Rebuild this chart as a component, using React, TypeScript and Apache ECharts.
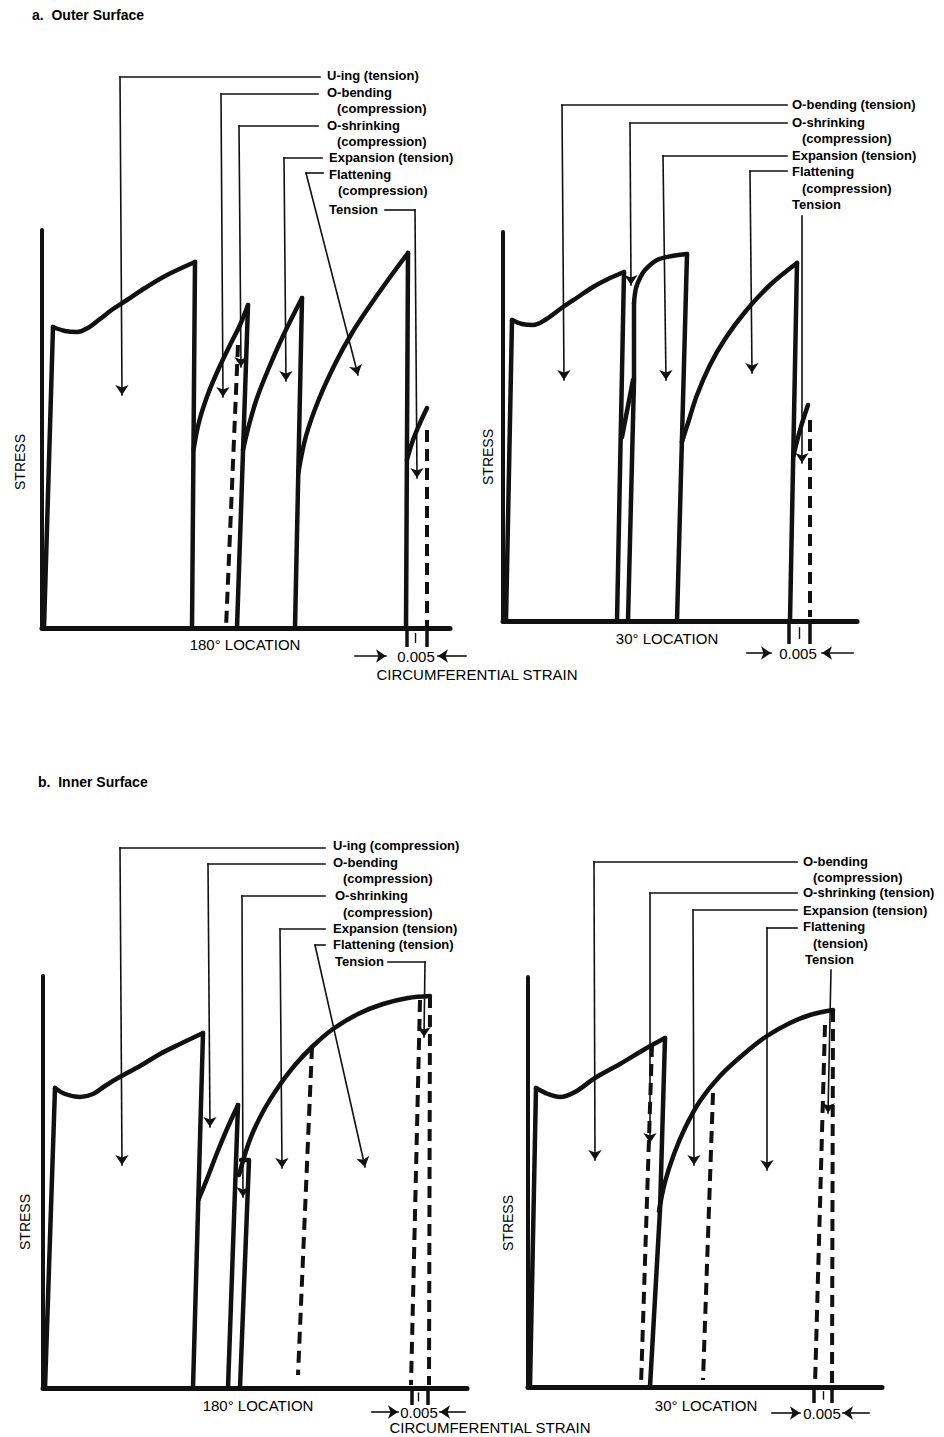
import React, { useEffect, useRef } from "react";
import * as echarts from "echarts";

type Pt = [number, number];

// ===== values (arbitrary strain / stress units per panel) =====

// ---- a. Outer surface, 180° location ----
const A180_uingRise: Pt[] = [[2, 0], [11, 301]];
const A180_uingCurve: Pt[] = [[11, 301], [23, 297], [35, 296], [46, 300], [58, 309], [71, 319], [85, 328], [103, 340], [125, 353], [153, 366]];
const A180_uingDrop: Pt[] = [[153, 366], [150, 0]];
const A180_obendCurve: Pt[] = [[151.5, 178], [157, 206], [166, 234], [177, 260], [188, 283], [198, 303], [206, 323]];
const A180_obendDrop: Pt[] = [[206, 323], [195, 0]];
const A180_oshrinkDash: Pt[] = [[196, 283], [184, 0]];
const A180_expCurve: Pt[] = [[201, 178], [207, 203], [215, 230], [226, 258], [241, 292], [260, 330]];
const A180_expDrop: Pt[] = [[260, 330], [253, 0]];
const A180_flatCurve: Pt[] = [[256.3, 155], [264, 192], [277, 229], [294, 266], [310, 295], [327, 321], [346, 348], [366, 375]];
const A180_flatDrop: Pt[] = [[366, 375], [364, 0]];
const A180_tensCurve: Pt[] = [[364.9, 168], [371, 188], [378, 205], [385, 220]];
const A180_tensDash: Pt[] = [[385, 198], [385, 0]];
const A180_leaders: Pt[][] = [
  [[278, 551], [78, 551], [80, 233]],
  [[276, 534], [179, 534], [181, 231]],
  [[276, 502], [197, 502], [199, 261]],
  [[280, 470], [242, 470], [244, 247]],
  [[281, 455], [264, 455], [316, 253]],
  [[343, 418], [373, 418], [375, 150]],
];
const A180_gaugeTicks: number[] = [365, 385];
const A180_gaugeMid: number = 373;
const A180_gaugeArrows: Pt[][] = [[[313, -28], [344, -28]], [[424, -28], [396, -28]]];
const A180_labels: string[] = ["U-ing (tension)", "O-bending", "(compression)", "O-shrinking", "(compression)", "Expansion (tension)", "Flattening", "(compression)", "Tension"];

// ---- a. Outer surface, 30° location ----
const A30_obendRise: Pt[] = [[3, 0], [9, 301]];
const A30_obendCurve: Pt[] = [[9, 301], [19, 297], [30, 296], [42, 301], [60, 314], [75, 324], [90, 334], [105, 342], [121, 349]];
const A30_obendDrop: Pt[] = [[121, 349], [114, 0]];
const A30_oshrinkReload: Pt[] = [[119, 184], [130, 241]];
const A30_oshrinkRise: Pt[] = [[125, 0], [131, 241], [131, 318]];
const A30_oshrinkCurve: Pt[] = [[131, 318], [133, 333], [137, 343], [142, 351], [154, 361], [169, 365], [184, 367]];
const A30_oshrinkDrop: Pt[] = [[184, 367], [174, 0]];
const A30_expCurve: Pt[] = [[178.9, 179], [185, 198], [194, 226], [207, 256], [222, 282], [242, 309], [267, 336], [294, 358]];
const A30_expDrop: Pt[] = [[294, 358], [287, 0]];
const A30_tensCurve: Pt[] = [[290.2, 164], [297, 191], [305, 216]];
const A30_tensDash: Pt[] = [[307, 201], [307, 4]];
const A30_leaders: Pt[][] = [
  [[284, 516], [59, 516], [61, 241]],
  [[284, 498], [127, 498], [128, 336]],
  [[284, 465], [160, 465], [163, 241]],
  [[284, 450], [247, 450], [249, 248]],
  [[299, 405], [299, 158]],
];
const A30_gaugeTicks: number[] = [286, 307];
const A30_gaugeMid: number = 296;
const A30_gaugeArrows: Pt[][] = [[[244, -32], [268, -32]], [[350, -32], [319, -32]]];
const A30_labels: string[] = ["O-bending (tension)", "O-shrinking", "(compression)", "Expansion (tension)", "Flattening", "(compression)", "Tension"];

// ---- b. Inner surface, 180° location ----
const B180_uingRise: Pt[] = [[2, 0], [12, 300]];
const B180_uingCurve: Pt[] = [[12, 300], [22, 294], [37, 291], [50, 294], [62, 302], [75, 310], [97, 322], [117, 334], [137, 344], [160, 355]];
const B180_uingDrop: Pt[] = [[160, 355], [150, 0]];
const B180_obendCurve: Pt[] = [[155.3, 188], [164, 209], [174, 235], [184, 259], [195, 283]];
const B180_obendDrop: Pt[] = [[195, 283], [185, 0]];
const B180_oshrink: Pt[] = [[197, 0], [206, 228], [198, 228]];
const B180_expCurve: Pt[] = [[196, 213], [203, 237], [210, 256], [222, 280], [236, 302], [252, 323], [270, 342], [290, 359], [315, 374], [340, 384], [365, 390], [387, 392]];
const B180_dashes: Pt[][] = [
  [[269, 341], [255, 13]],
  [[377, 388], [368, 3]],
  [[387, 392], [386, 3]],
];
const B180_leaders: Pt[][] = [
  [[282, 540], [77, 540], [79, 223]],
  [[282, 524], [165, 524], [167, 261]],
  [[282, 492], [199, 492], [200, 191]],
  [[282, 459], [237, 459], [239, 220]],
  [[282, 443], [272, 443], [322, 221]],
  [[345, 426], [382, 426], [381, 351]],
];
const B180_gaugeTicks: number[] = [369, 385];
const B180_gaugeMid: number = 375;
const B180_gaugeArrows: Pt[][] = [[[329, -24], [355, -24]], [[422, -24], [397, -24]]];
const B180_labels: string[] = ["U-ing (compression)", "O-bending", "(compression)", "O-shrinking", "(compression)", "Expansion (tension)", "Flattening (tension)", "Tension"];

// ---- b. Inner surface, 30° location ----
const B30_obendRise: Pt[] = [[2, 0], [8, 299]];
const B30_obendCurve: Pt[] = [[8, 299], [20, 293], [32, 290], [47, 295], [67, 309], [92, 323], [117, 338], [137, 349]];
const B30_obendDrop: Pt[] = [[137, 349], [132, 177], [122, 0]];
const B30_expCurve: Pt[] = [[131, 176], [137, 205], [146, 233], [157, 259], [172, 286], [192, 311], [217, 334], [239, 351], [262, 364], [282, 372], [305, 377]];
const B30_dashes: Pt[][] = [
  [[124, 342], [113, 2]],
  [[185, 294], [175, 7]],
  [[297, 362], [287, 2]],
  [[305, 377], [304, 2]],
];
const B30_leaders: Pt[][] = [
  [[269, 525], [66, 525], [67, 227]],
  [[269, 494], [122, 494], [122, 244]],
  [[269, 477], [165, 477], [166, 222]],
  [[269, 459], [239, 459], [239, 217]],
  [[303, 417], [300, 274]],
];
const B30_gaugeTicks: number[] = [286, 304];
const B30_gaugeMid: number = 295;
const B30_gaugeArrows: Pt[][] = [[[244, -26], [272, -26]], [[341, -26], [315, -26]]];
const B30_labels: string[] = ["O-bending", "(compression)", "O-shrinking (tension)", "Expansion (tension)", "Flattening", "(tension)", "Tension"];

// shared texts
const AXIS_X_180 = "180° LOCATION";
const AXIS_X_30 = "30° LOCATION";
const AXIS_Y = "STRESS";
const GAUGE = "0.005";
const STRAIN = "CIRCUMFERENTIAL STRAIN";

// ===== layout =====
const INK = "#111111";
const FONT = '"Liberation Sans", Arial, Helvetica, sans-serif';

const GRIDS = [
  { left: 42, top: 230, width: 408, height: 398 },
  { left: 503, top: 232, width: 354, height: 389 },
  { left: 43, top: 976, width: 424, height: 412 },
  { left: 528, top: 977, width: 354, height: 410 },
];
const GAUGE_TICK_LEN = [19, 23, 17, 16];

const LABEL_POS: Pt[][] = [
  [[327, 75], [327, 92], [337, 108], [327, 125], [337, 141], [329, 157], [329, 174], [338, 190], [329, 209]],
  [[792, 104], [792, 122], [802, 138], [792, 155], [792, 171], [802, 188], [792, 204]],
  [[333, 845], [333, 862], [343, 878], [335, 895], [343, 912], [333, 928], [333, 944], [335, 961]],
  [[803, 861], [813, 877], [803, 892], [803, 910], [803, 926], [813, 943], [805, 959]],
];

function solid(g: number, data: Pt[], smooth = false): any {
  return {
    type: "line",
    xAxisIndex: g,
    yAxisIndex: g,
    data,
    smooth: smooth ? 0.35 : false,
    showSymbol: false,
    symbol: "none",
    clip: false,
    silent: true,
    lineStyle: { color: INK, width: 4.5, cap: "round", join: "round" },
    z: 3,
  };
}

function dashed(g: number, data: Pt[]): any {
  return {
    type: "line",
    xAxisIndex: g,
    yAxisIndex: g,
    data,
    showSymbol: false,
    symbol: "none",
    clip: false,
    silent: true,
    lineStyle: { color: INK, width: 4, type: [12, 7], cap: "butt" },
    z: 3,
  };
}

function segLines(g: number, segs: Pt[][], width: number, arrow: boolean, size = 10): any {
  return {
    type: "lines",
    coordinateSystem: "cartesian2d",
    xAxisIndex: g,
    yAxisIndex: g,
    polyline: false,
    data: segs.map((s) => ({ coords: s })),
    symbol: arrow ? ["none", "arrow"] : "none",
    symbolSize: arrow ? [1, size] : 0,
    clip: false,
    silent: true,
    itemStyle: { color: INK },
    lineStyle: { color: INK, width, opacity: 1, curveness: 0, cap: "square" },
    z: 4,
  };
}

function leaders(g: number, paths: Pt[][]): any[] {
  const plain: Pt[][] = [];
  const last: Pt[][] = [];
  paths.forEach((p) => {
    for (let i = 0; i < p.length - 1; i++) {
      const seg: Pt[] = [p[i], p[i + 1]];
      if (i === p.length - 2) last.push(seg);
      else plain.push(seg);
    }
  });
  return [segLines(g, plain, 1.6, false), segLines(g, last, 1.6, true, 10)];
}

function gauge(g: number, ticks: number[], mid: number, arrows: Pt[][]): any[] {
  const len = GAUGE_TICK_LEN[g];
  const tickSegs: Pt[][] = ticks.map((t) => [[t, 0], [t, -len]] as Pt[]);
  return [
    { ...segLines(g, tickSegs, 3.5, false), lineStyle: { color: INK, width: 3.5, opacity: 1, cap: "butt" } },
    segLines(g, [[[mid, -len * 0.3], [mid, -len * 0.75]]], 1.4, false),
    segLines(g, arrows, 1.6, true, 10),
  ];
}

function text(t: string, x: number, y: number, font: string, align = "left", rotation = 0): any {
  return {
    type: "text",
    x,
    y,
    rotation,
    silent: true,
    z: 10,
    style: {
      text: t,
      font,
      fill: "#000000",
      textAlign: align,
      align,
      textVerticalAlign: "middle",
      verticalAlign: "middle",
    },
  };
}

function buildOption(): any {
  const series: any[] = [
    // a, 180°
    solid(0, A180_uingRise),
    solid(0, A180_uingCurve, true),
    solid(0, A180_uingDrop),
    solid(0, A180_obendCurve, true),
    solid(0, A180_obendDrop),
    dashed(0, A180_oshrinkDash),
    solid(0, A180_expCurve, true),
    solid(0, A180_expDrop),
    solid(0, A180_flatCurve, true),
    solid(0, A180_flatDrop),
    solid(0, A180_tensCurve, true),
    dashed(0, A180_tensDash),
    ...leaders(0, A180_leaders),
    ...gauge(0, A180_gaugeTicks, A180_gaugeMid, A180_gaugeArrows),
    // a, 30°
    solid(1, A30_obendRise),
    solid(1, A30_obendCurve, true),
    solid(1, A30_obendDrop),
    solid(1, A30_oshrinkReload),
    solid(1, A30_oshrinkRise),
    solid(1, A30_oshrinkCurve, true),
    solid(1, A30_oshrinkDrop),
    solid(1, A30_expCurve, true),
    solid(1, A30_expDrop),
    solid(1, A30_tensCurve, true),
    dashed(1, A30_tensDash),
    ...leaders(1, A30_leaders),
    ...gauge(1, A30_gaugeTicks, A30_gaugeMid, A30_gaugeArrows),
    // b, 180°
    solid(2, B180_uingRise),
    solid(2, B180_uingCurve, true),
    solid(2, B180_uingDrop),
    solid(2, B180_obendCurve, true),
    solid(2, B180_obendDrop),
    solid(2, B180_oshrink),
    solid(2, B180_expCurve, true),
    ...B180_dashes.map((d) => dashed(2, d)),
    ...leaders(2, B180_leaders),
    ...gauge(2, B180_gaugeTicks, B180_gaugeMid, B180_gaugeArrows),
    // b, 30°
    solid(3, B30_obendRise),
    solid(3, B30_obendCurve, true),
    solid(3, B30_obendDrop),
    solid(3, B30_expCurve, true),
    ...B30_dashes.map((d) => dashed(3, d)),
    ...leaders(3, B30_leaders),
    ...gauge(3, B30_gaugeTicks, B30_gaugeMid, B30_gaugeArrows),
  ];

  const axisBase = {
    type: "value",
    min: 0,
    axisTick: { show: false },
    axisLabel: { show: false },
    splitLine: { show: false },
  };
  const xAxis = GRIDS.map((g, i) => ({
    ...axisBase,
    gridIndex: i,
    max: g.width,
    axisLine: { show: true, onZero: false, lineStyle: { color: INK, width: 5 } },
  }));
  const yAxis = GRIDS.map((g, i) => ({
    ...axisBase,
    gridIndex: i,
    max: g.height,
    axisLine: { show: true, onZero: false, lineStyle: { color: INK, width: 4 } },
  }));

  const lblFont = `bold 13px ${FONT}`;
  const axFont = `15px ${FONT}`;
  const labelSets = [A180_labels, A30_labels, B180_labels, B30_labels];
  const graphics: any[] = [
    text("a.  Outer Surface", 32, 15, `bold 14px ${FONT}`),
    text("b.  Inner Surface", 38, 782, `bold 14px ${FONT}`),
  ];
  labelSets.forEach((set, gi) => {
    set.forEach((t, k) => {
      const p = LABEL_POS[gi][k];
      graphics.push(text(t, p[0], p[1], lblFont));
    });
  });
  graphics.push(
    text(AXIS_X_180, 245, 644, axFont, "center"),
    text(AXIS_X_30, 667, 638, axFont, "center"),
    text(AXIS_X_180, 258, 1405, axFont, "center"),
    text(AXIS_X_30, 706, 1405, axFont, "center"),
    text(GAUGE, 416, 656, axFont, "center"),
    text(GAUGE, 798, 653, axFont, "center"),
    text(GAUGE, 419, 1412, axFont, "center"),
    text(GAUGE, 822, 1413, axFont, "center"),
    text(STRAIN, 477, 674, axFont, "center"),
    text(STRAIN, 490, 1427, axFont, "center"),
    text(AXIS_Y, 20, 462, `14px ${FONT}`, "center", Math.PI / 2),
    text(AXIS_Y, 488, 457, `14px ${FONT}`, "center", Math.PI / 2),
    text(AXIS_Y, 25, 1222, `14px ${FONT}`, "center", Math.PI / 2),
    text(AXIS_Y, 508, 1223, `14px ${FONT}`, "center", Math.PI / 2)
  );

  return {
    animation: false,
    backgroundColor: "#ffffff",
    grid: GRIDS.map((g) => ({ ...g, containLabel: false })),
    xAxis,
    yAxis,
    series,
    graphic: { elements: graphics },
  };
}

export default function App() {
  const ref = useRef<HTMLDivElement | null>(null);
  useEffect(() => {
    if (!ref.current) return;
    const chart = echarts.init(ref.current, undefined, { renderer: "svg" });
    chart.setOption(buildOption());
    return () => {
      chart.dispose();
    };
  }, []);
  return (
    <div
      ref={ref}
      style={{ position: "absolute", left: 0, top: 0, width: 944, height: 1437, background: "#fff" }}
    />
  );
}
